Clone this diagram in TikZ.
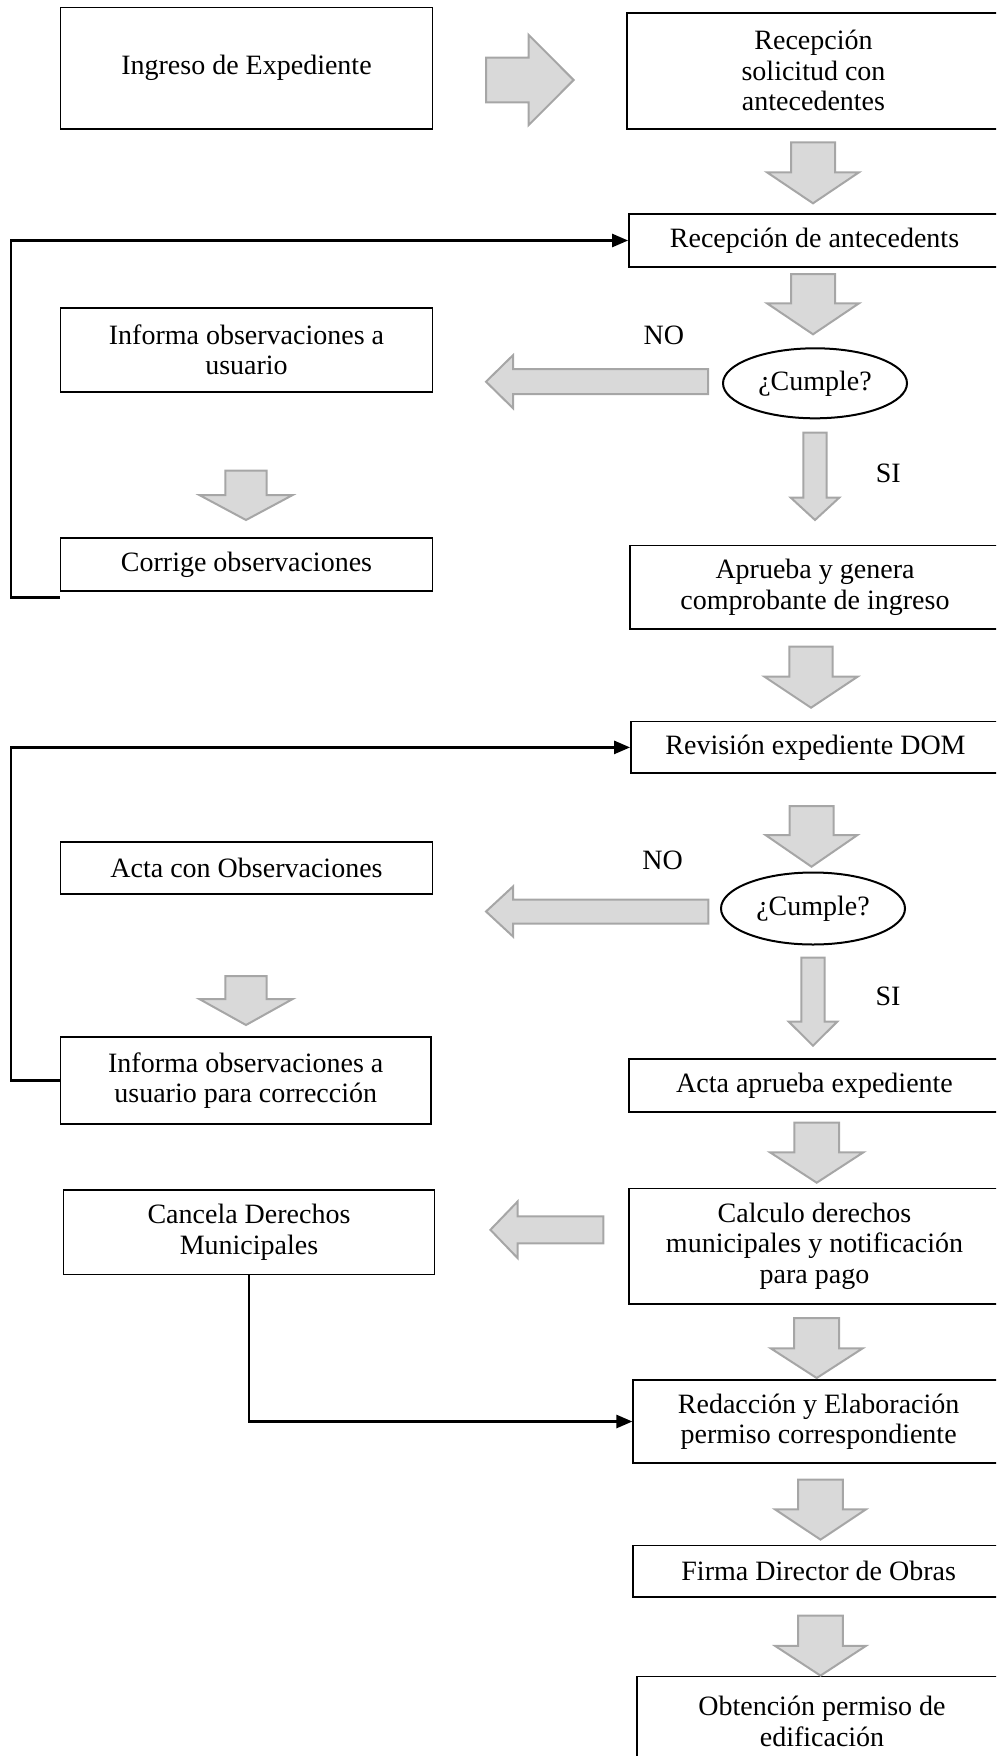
\documentclass[tikz,border=0pt]{standalone}
\usepackage{fontspec}
\setmainfont{Liberation Serif}
\usetikzlibrary{shapes.geometric,arrows.meta,calc}
\definecolor{arrowfill}{HTML}{D9D9D9}
\definecolor{arrowedge}{HTML}{A6A6A6}
% block arrow pointing down: centre x, top, head base, tip, half shaft, half head
\newcommand{\downblock}[6]{\draw[blockarrow] ({#1-#5},#2) -- ({#1+#5},#2) -- ({#1+#5},#3) -- ({#1+#6},#3) -- (#1,#4) -- ({#1-#6},#3) -- ({#1-#5},#3) -- cycle;}
% block arrow pointing sideways: centre y, tail x, head base x, tip x, half shaft, half head
\newcommand{\sideblock}[6]{\draw[blockarrow] (#2,{#1-#5}) -- (#3,{#1-#5}) -- (#3,{#1-#6}) -- (#4,#1) -- (#3,{#1+#6}) -- (#3,{#1+#5}) -- (#2,{#1+#5}) -- cycle;}
\begin{document}
\begin{tikzpicture}[x=0.5pt,y=-0.5pt,
  txt/.style={font=\fontsize{14pt}{15.25pt}\selectfont},
  box/.style={txt, draw=black, line width=0.9pt, fill=white, inner sep=0pt, align=center},
  decision/.style={txt, ellipse, draw=black, line width=1pt, inner sep=0pt, minimum width=92pt},
  blockarrow/.style={draw=arrowedge, fill=arrowfill, line width=1pt, line join=miter},
  link/.style={draw=black, line width=1.3pt, -{Triangle[length=8pt,width=6.5pt]}}]
\useasboundingbox (0,0) rectangle (996,1756);
\clip (0,0) rectangle (996,1756);

% process steps
\node[box, minimum width=186pt, minimum height=60.75pt] (ingreso) at (246.5,68.25) {Ingreso de Expediente};
\node[box, minimum width=186.5pt, minimum height=58.15pt] (recep) at (813.5,70.85) {Recepción\\solicitud con\\antecedentes};
\node[box, minimum width=185.5pt, minimum height=26.2pt] (recant) at (814.5,240.5) {Recepción de antecedents};
\node[decision, minimum height=35pt] (cumple1) at (815,383.3) {¿Cumple?};
\node[box, minimum width=186pt, minimum height=41.85pt] (informa1) at (246.5,349.85) {Informa observaciones a\\usuario};
\node[box, minimum width=186pt, minimum height=26.35pt] (corrige) at (246.5,564.35) {Corrige observaciones};
\node[box, minimum width=185pt, minimum height=41.9pt] (aprueba) at (815,587.4) {Aprueba y genera\\comprobante de ingreso};
\node[box, minimum width=184.5pt, minimum height=25.9pt] (revision) at (815.5,747.4) {Revisión expediente DOM};
\node[decision, minimum height=36pt] (cumple2) at (813,908.5) {¿Cumple?};
\node[box, minimum width=186pt, minimum height=26pt] (actaobs) at (246.5,868.3) {Acta con Observaciones};
\node[box, minimum width=185.25pt, minimum height=43.35pt] (informa2) at (245.75,1080.65) {Informa observaciones a\\usuario para corrección};
\node[box, minimum width=185.5pt, minimum height=26.35pt] (actaaprueba) at (814.5,1085.35) {Acta aprueba expediente};
\node[box, minimum width=185.5pt, minimum height=42.3pt] (cancela) at (249,1232.1) {Cancela Derechos\\Municipales};
\node[box, minimum width=185.5pt, minimum height=57.65pt] (calculo) at (814.5,1246.15) {Calculo derechos\\municipales y notificación\\para pago};
\node[box, minimum width=185.35pt, minimum height=41.5pt] (redaccion) at (818.65,1421.5) {Redacción y Elaboración\\permiso correspondiente};
\node[box, minimum width=185.35pt, minimum height=25.9pt] (firma) at (818.65,1571.3) {Firma Director de Obras};
\node[box, minimum width=185pt, minimum height=44.8pt] (obtencion) at (822,1721.2) {Obtención permiso de\\edificación};

% branch labels
\node[txt] (no1) at (663.8,335) {NO};
\node[txt] (si1) at (888.3,473.3) {SI};
\node[txt] (no2) at (662.5,860) {NO};
\node[txt] (si2) at (888,996.7) {SI};

% grey block arrows
\sideblock{80}{486}{528.5}{573.6}{22.3}{45.3}
\downblock{813}{142.3}{172.3}{203.3}{22}{46}
\downblock{813}{274}{303.3}{334.3}{22}{46}
\sideblock{381.7}{708}{513}{486}{12.5}{26.5}
\downblock{815}{432.7}{497.7}{520}{11.7}{24.2}
\downblock{246}{470.7}{495}{520}{20.7}{46.7}
\downblock{811}{646.7}{676.7}{707.7}{21.7}{46.5}
\downblock{811.5}{806}{835}{866.7}{22}{46}
\sideblock{911.5}{708.3}{513}{486}{12}{25}
\downblock{813}{957.7}{1021.7}{1045.7}{11.7}{24.2}
\downblock{246}{976}{999}{1025}{20.7}{46.7}
\downblock{816.7}{1122.7}{1152.3}{1182.7}{22.3}{46.7}
\sideblock{1229.8}{603.4}{517.7}{490.4}{13.5}{28.4}
\downblock{816.7}{1318}{1348.3}{1378}{22.5}{46}
\downblock{820.5}{1479.7}{1509.4}{1539.6}{22.3}{45.4}
\downblock{820.5}{1615.7}{1645.9}{1675.6}{22.3}{45.4}

% return loops and payment link
\draw[link] ($(corrige.south west)+(0,6)$) -- ++(-48.5,0) |- (recant.west);
\draw[link] (informa2.west) -- ++(-48.5,0) |- (revision.west);
\draw[link] (cancela.south) |- (redaccion.west);
\end{tikzpicture}
\end{document}
